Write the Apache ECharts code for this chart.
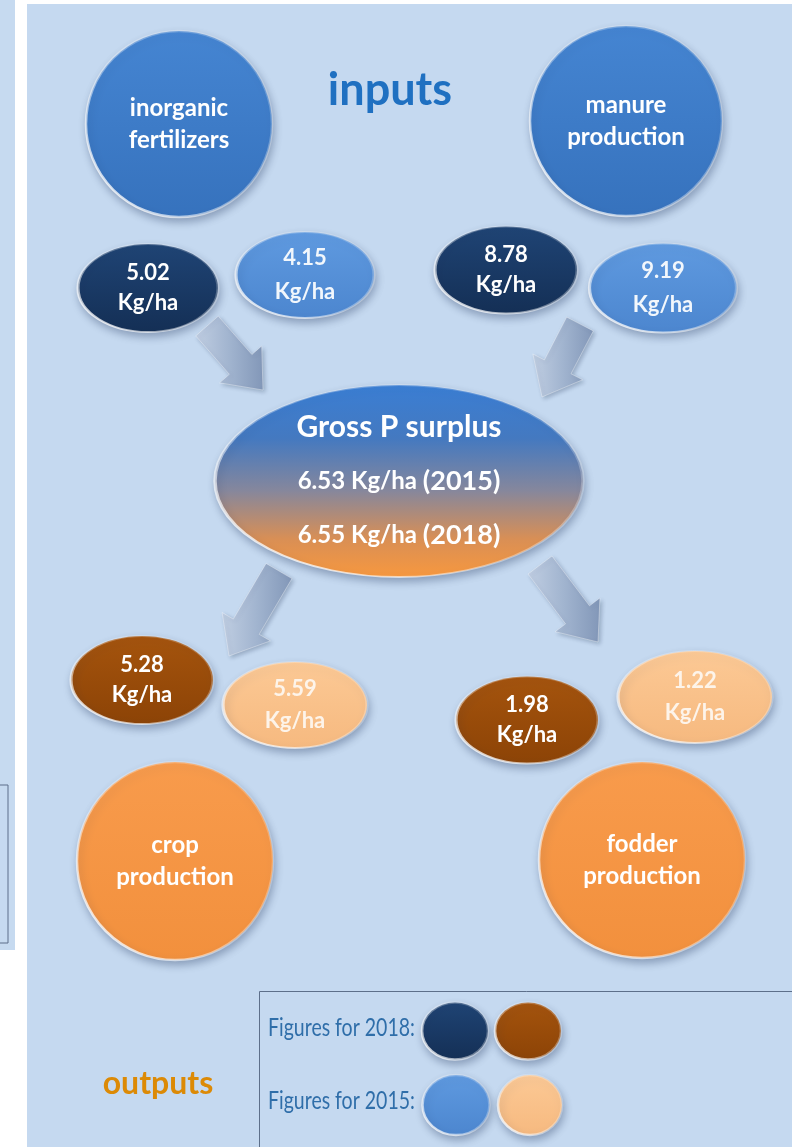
<!DOCTYPE html>
<html><head><meta charset="utf-8">
<script src="https://cdn.jsdelivr.net/npm/echarts@6/dist/echarts.min.js"></script>
<style>html,body{margin:0;padding:0;background:#fff}#c{width:792px;height:1147px}</style>
</head><body><div id="c"></div><script>
// ---------------- data ----------------
const sources = ['inorganic\nfertilizers', 'manure\nproduction'];
const sinks = ['crop\nproduction', 'fodder\nproduction'];
const inputs2018 = [5.02, 8.78];
const inputs2015 = [4.15, 9.19];
const outputs2018 = [5.28, 1.98];
const outputs2015 = [5.59, 1.22];
const surplusYears = ['2015', '2018'];
const surplusValues = [6.53, 6.55];
const surplusTitle = 'Gross P surplus';
const unit = 'Kg/ha';
const sectionTitles = ['inputs', 'outputs'];
const legendLabels = ['Figures for 2018:', 'Figures for 2015:'];

// ---------------- layout (diagram positions, px space of the hidden axes) ----------------
const L = {
  sources: { pos: [[179, 124], [626, 121]], size: [[186, 186], [192, 190]] },
  in2018: { pos: [[148, 288], [506, 270]], size: [[140, 88], [142, 87]] },
  in2015: { pos: [[305, 275], [663, 288]], size: [[138, 86], [147, 89]] },
  surplus: { pos: [399, 481], size: [368, 192] },
  out2018: { pos: [[142, 680], [527, 720]], size: [[142, 88], [142, 87]] },
  out2015: { pos: [[295, 705], [695, 697]], size: [[144, 86], [154, 92]] },
  sinks: { pos: [[175, 861], [642, 860]], size: [[196, 198], [206, 196]] },
  arrows: [[207, 326, 263, 390], [580, 324, 542, 397], [279, 571, 229, 656], [540, 565, 598, 642]],
  legend: { pos: [[455, 1031], [528, 1031], [456, 1105], [530, 1105]], size: [[66, 57], [66, 57], [67, 60], [64, 60]] }
};

const FONT = 'Lato, "Open Sans", sans-serif';
function grad(c1, c2) {
  return new echarts.graphic.LinearGradient(0, 0, 0, 1, [{ offset: 0, color: c1 }, { offset: 1, color: c2 }]);
}
const STY = {
  blue: grad('#4585d2', '#3672bd'),
  navy: grad('#1f4475', '#142f55'),
  light: grad('#5f9ae0', '#4c86cf'),
  brown: grad('#a5540d', '#8c4306'),
  peach: grad('#fcc995', '#f6b97f'),
  orange: grad('#f89b4c', '#f2903d')
};
function common() {
  return {
    opacity: 1,
    borderColor: new echarts.graphic.LinearGradient(1, 0, 0, 1, [
      { offset: 0, color: 'rgba(255,255,255,0.15)' }, { offset: 0.55, color: 'rgba(255,255,255,0.35)' },
      { offset: 1, color: 'rgba(255,255,255,0.95)' }]),
    borderWidth: 2.5,
    shadowBlur: 8, shadowColor: 'rgba(20,40,80,0.35)', shadowOffsetX: 2, shadowOffsetY: 4
  };
}

function nodeSeries(name, labels, pos, size, fill, textColor, fontSize, lineHeight) {
  return {
    type: 'scatter', name: name, z: 5,
    data: labels.map((t, i) => ({ name: String(t), value: pos[i], symbolSize: size[i] })),
    symbol: 'circle',
    itemStyle: Object.assign(common(), { color: fill }),
    label: {
      show: true, position: 'inside', formatter: p => p.name,
      color: textColor, fontFamily: FONT, fontWeight: 'bold', fontSize: fontSize, lineHeight: lineHeight
    },
    emphasis: { disabled: true }, silent: true
  };
}
const withUnit = arr => arr.map(v => v.toFixed(2) + '\n' + unit);

const arrowSeries = {
  type: 'custom', z: 3, silent: true,
  data: L.arrows,
  renderItem: function (params, api) {
    const p1 = api.coord([api.value(0), api.value(1)]);
    const p2 = api.coord([api.value(2), api.value(3)]);
    const dx = p2[0] - p1[0], dy = p2[1] - p1[1];
    const len = Math.sqrt(dx * dx + dy * dy);
    const ux = dx / len, uy = dy / len, nx = -uy, ny = ux;
    const sh = 15, hh = 28, hl = 34;
    const bx = p2[0] - ux * hl, by = p2[1] - uy * hl;
    const pts = [
      [p1[0] + nx * sh, p1[1] + ny * sh], [bx + nx * sh, by + ny * sh], [bx + nx * hh, by + ny * hh],
      [p2[0], p2[1]], [bx - nx * hh, by - ny * hh], [bx - nx * sh, by - ny * sh], [p1[0] - nx * sh, p1[1] - ny * sh]
    ];
    return {
      type: 'polygon', shape: { points: pts },
      style: {
        fill: new echarts.graphic.LinearGradient(0, 0, 1, 0, [
          { offset: 0, color: '#c0cee2' }, { offset: 0.5, color: '#a1b4cf' }, { offset: 1, color: '#8297b8' }]),
        stroke: 'rgba(255,255,255,0.35)', lineWidth: 1,
        shadowBlur: 4, shadowColor: 'rgba(40,60,90,0.3)', shadowOffsetX: 2, shadowOffsetY: 2
      }
    };
  }
};

const surplusSeries = {
  type: 'scatter', z: 5, silent: true,
  data: [{ name: surplusTitle, value: L.surplus.pos, symbolSize: L.surplus.size }],
  itemStyle: Object.assign(common(), {
    color: new echarts.graphic.LinearGradient(0, 0, 0, 1, [
      { offset: 0, color: '#3a7ed4' }, { offset: 0.28, color: '#4479c0' }, { offset: 0.55, color: '#86879c' },
      { offset: 0.8, color: '#d98f55' }, { offset: 1, color: '#f8983e' }])
  }),
  label: {
    show: true, position: 'inside',
    formatter: p => '{t|' + p.name + '}\n' + surplusValues.map((v, i) =>
      '{v|' + v.toFixed(2) + ' ' + unit + ' }{y|(' + surplusYears[i] + ')}').join('\n'),
    rich: {
      t: { color: '#fff', fontFamily: FONT, fontWeight: 'bold', fontSize: 30, lineHeight: 54 },
      v: { color: '#fff', fontFamily: FONT, fontWeight: 'bold', fontSize: 24, lineHeight: 54 },
      y: { color: '#fff', fontFamily: FONT, fontWeight: 'bold', fontSize: 27, lineHeight: 54 }
    }
  }
};

const legendSeries = {
  type: 'scatter', z: 5, silent: true,
  data: [STY.navy, STY.brown, STY.light, STY.peach].map((c, i) => ({
    value: L.legend.pos[i], symbolSize: L.legend.size[i], itemStyle: Object.assign(common(), { color: c })
  })),
  label: { show: false }
};

const chart = echarts.init(document.getElementById('c'));
chart.setOption({
  animation: false,
  backgroundColor: '#ffffff',
  grid: { left: 0, right: 0, top: 0, bottom: 0 },
  xAxis: { type: 'value', min: 0, max: 792, show: false },
  yAxis: { type: 'value', min: 0, max: 1147, inverse: true, show: false },
  graphic: [
    { type: 'rect', z: -10, shape: { x: 0, y: 0, width: 15, height: 950 }, style: { fill: '#c6daf0' } },
    { type: 'rect', z: -9, shape: { x: -5, y: 785, width: 13, height: 158 }, style: { fill: 'none', stroke: '#5d6f8a', lineWidth: 1 } },
    { type: 'rect', z: -10, shape: { x: 27, y: 4, width: 765, height: 1143 }, style: { fill: '#c5d9f0' } },
    { type: 'text', z: 10, style: { text: sectionTitles[0], x: 390, y: 90, align: 'center', verticalAlign: 'middle',
        font: 'bold 45px ' + FONT, fill: '#1f70c1' } },
    { type: 'text', z: 10, style: { text: sectionTitles[1], x: 158, y: 1084, align: 'center', verticalAlign: 'middle',
        font: 'bold 32px ' + FONT, fill: '#dc8a06' } },
    { type: 'rect', z: 1, shape: { x: 259.5, y: 991.5, width: 560, height: 200 }, style: { fill: 'none', stroke: '#5d6f8a', lineWidth: 1 } },
    { type: 'text', z: 10, x: 268, y: 1028, scaleX: 0.78, style: { text: legendLabels[0], x: 0, y: 0, verticalAlign: 'middle', font: '25px ' + FONT, fill: '#2f6ea9' } },
    { type: 'text', z: 10, x: 268, y: 1101, scaleX: 0.78, style: { text: legendLabels[1], x: 0, y: 0, verticalAlign: 'middle', font: '25px ' + FONT, fill: '#2f6ea9' } }
  ],
  series: [
    arrowSeries,
    nodeSeries('sources', sources, L.sources.pos, L.sources.size, STY.blue, '#ffffff', 24, 32),
    nodeSeries('in2018', withUnit(inputs2018), L.in2018.pos, L.in2018.size, STY.navy, '#ffffff', 22, 30),
    nodeSeries('in2015', withUnit(inputs2015), L.in2015.pos, L.in2015.size, STY.light, '#f2f7fc', 22, 34),
    surplusSeries,
    nodeSeries('out2018', withUnit(outputs2018), L.out2018.pos, L.out2018.size, STY.brown, '#ffffff', 22, 30),
    nodeSeries('out2015', withUnit(outputs2015), L.out2015.pos, L.out2015.size, STY.peach, '#fdf4ea', 22, 32),
    nodeSeries('sinks', sinks, L.sinks.pos, L.sinks.size, STY.orange, '#ffffff', 24, 32),
    legendSeries
  ]
});
</script></body></html>
